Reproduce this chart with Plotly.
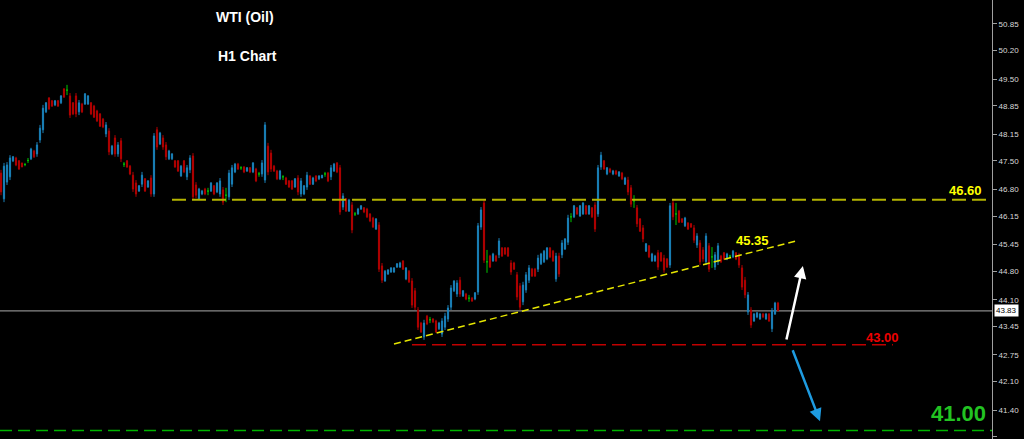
import plotly.graph_objects as go

# ---------------- data (H1 bars) ----------------
opens = [47.20,46.57,46.98,47.11,47.50,47.57,47.50,47.45,47.41,47.51,47.55,47.74,47.67,48.01,48.26,48.70,49.04,48.97,48.87,48.97,
 48.92,49.26,49.23,49.09,48.92,49.09,48.70,48.89,48.89,48.89,48.92,48.84,48.72,48.65,48.52,48.16,48.23,47.67,48.06,47.67,
 47.99,47.42,47.50,47.37,47.15,46.96,46.76,46.93,47.06,46.86,47.08,46.69,48.26,47.91,48.06,47.89,47.55,47.55,47.50,47.50,
 47.13,47.50,47.11,47.28,47.62,46.91,46.57,46.69,46.81,46.76,46.76,46.89,46.74,46.69,46.79,46.66,46.62,46.93,47.23,47.42,
 47.33,47.35,47.25,47.33,47.23,47.30,47.18,47.18,47.03,47.86,47.69,47.37,47.25,47.06,47.11,47.08,47.01,47.01,46.86,47.08,
 46.69,46.69,46.86,47.13,46.93,47.13,47.06,47.08,47.18,47.20,47.11,47.25,47.45,47.33,46.37,46.57,46.27,46.42,46.20,46.20,
 46.32,46.35,46.32,46.20,46.10,45.83,45.93,44.93,44.56,44.73,44.78,44.78,44.90,44.90,45.05,44.61,44.80,44.56,44.32,43.85,
 43.53,43.19,43.70,43.61,43.63,43.58,43.39,43.26,43.43,43.63,43.92,44.32,44.24,44.58,44.19,44.24,44.14,44.14,44.12,44.29,
 45.88,46.47,45.03,45.17,45.05,45.17,45.20,45.37,45.37,45.37,45.00,45.00,44.71,44.44,44.05,44.34,44.58,44.85,44.85,44.85,
 44.98,45.03,45.10,45.37,45.29,44.61,45.17,45.20,45.34,45.51,46.13,46.13,46.35,46.15,46.20,46.40,46.20,46.35,46.42,46.20,
 47.35,47.50,47.18,47.30,47.18,47.25,47.13,47.20,46.93,47.03,46.84,46.52,46.35,46.08,45.86,45.29,45.42,45.05,45.05,45.25,
 45.25,45.12,45.10,44.95,46.47,46.20,46.27,46.08,45.91,45.98,45.96,45.86,45.44,45.49,45.32,45.03,45.42,45.15,44.90,45.03,
 45.17,45.25,45.10,45.17,45.15,45.25,45.17,44.88,44.58,43.80,43.85,43.58,43.68,43.63,43.75,43.63,43.75,43.39,43.75,44.02]
highs = [47.28,47.45,47.47,47.64,47.62,47.60,47.52,47.45,47.45,47.57,47.82,47.77,47.96,48.38,48.87,48.94,49.06,48.99,48.99,48.99,
 49.11,49.28,49.36,49.16,48.94,49.16,48.99,48.92,49.16,49.11,48.94,48.87,48.75,48.67,48.55,48.45,48.30,47.89,48.13,47.96,
 48.06,47.47,47.52,47.40,47.23,47.03,46.91,47.23,47.08,47.03,47.15,48.18,48.33,48.21,48.13,47.96,47.77,47.69,47.52,47.52,
 47.40,47.52,47.40,47.64,47.69,46.98,46.84,46.79,46.84,46.84,46.98,46.91,46.98,47.08,46.86,46.84,47.28,47.40,47.45,47.45,
 47.37,47.37,47.35,47.35,47.47,47.33,47.23,47.52,48.45,47.94,47.77,47.40,47.28,47.28,47.15,47.11,47.03,47.03,47.08,47.15,
 47.08,46.91,47.23,47.15,47.11,47.15,47.15,47.15,47.23,47.23,47.40,47.45,47.47,47.40,46.71,46.59,46.57,46.49,46.25,46.35,
 46.42,46.37,46.35,46.22,46.13,46.10,46.00,45.00,44.83,44.85,44.90,44.90,45.00,45.03,45.07,44.90,44.83,44.63,44.39,43.92,
 43.56,43.61,43.73,43.68,43.65,43.61,43.56,43.65,43.78,43.97,44.46,44.58,44.58,44.66,44.34,44.27,44.22,44.17,44.29,45.98,
 46.37,46.54,45.32,45.20,45.25,45.20,45.61,45.39,45.39,45.39,45.07,45.03,44.78,44.51,44.54,44.78,44.95,44.88,44.88,45.20,
 45.25,45.32,45.39,45.39,45.32,45.25,45.25,45.56,45.61,46.18,46.22,46.42,46.37,46.42,46.49,46.42,46.42,46.37,46.49,47.40,
 47.72,47.52,47.35,47.33,47.28,47.28,47.25,47.23,47.11,47.11,46.91,46.66,46.42,46.10,45.93,45.49,45.44,45.25,45.20,45.32,
 45.27,45.20,45.12,46.47,46.54,46.47,46.30,46.10,46.13,46.00,45.98,45.93,45.73,45.56,45.39,45.73,45.49,45.39,45.27,45.49,
 45.20,45.27,45.25,45.20,45.32,45.27,45.25,44.95,44.66,44.29,43.92,43.78,43.80,43.78,43.78,43.78,43.78,43.90,44.05,44.05]
lows = [46.66,46.49,46.91,47.03,47.47,47.37,47.28,47.35,47.37,47.45,47.52,47.57,47.60,47.94,48.18,48.67,48.75,48.82,48.84,48.82,
 48.89,49.04,49.11,48.55,48.62,48.57,48.62,48.67,48.87,48.87,48.62,48.55,48.45,48.33,48.30,48.08,47.64,47.64,47.60,47.60,
 47.47,47.35,47.33,47.15,46.74,46.62,46.74,46.86,46.74,46.84,46.62,46.62,47.77,47.89,47.77,47.52,47.52,47.52,47.33,47.23,
 47.11,47.20,47.03,47.20,46.54,46.59,46.54,46.66,46.66,46.66,46.74,46.66,46.71,46.62,46.42,46.49,46.54,46.86,47.20,47.28,
 47.28,47.20,47.23,47.20,47.20,46.98,47.11,47.11,46.96,47.15,47.23,47.23,47.03,47.03,47.03,46.91,46.84,46.79,46.84,46.66,
 46.62,46.66,46.79,46.91,46.91,46.98,47.03,47.08,47.11,46.98,47.03,47.23,47.20,46.18,46.30,46.25,46.25,45.73,46.15,46.18,
 46.30,46.22,46.10,46.00,45.86,45.81,44.78,44.51,44.54,44.71,44.76,44.76,44.88,44.88,44.83,44.58,44.51,43.90,43.85,43.36,
 43.29,43.12,43.48,43.53,43.53,43.29,43.36,43.19,43.36,43.56,43.85,44.29,44.17,44.17,44.17,44.09,44.05,44.05,44.09,44.22,
 45.81,45.00,44.76,44.88,45.03,45.03,45.12,45.15,45.20,45.15,44.71,44.83,44.09,43.85,43.97,44.27,44.51,44.66,44.66,44.78,
 44.95,45.00,45.07,45.12,45.03,44.54,44.66,45.12,45.32,45.44,46.00,46.10,46.18,46.13,46.18,46.18,46.18,46.10,45.76,46.13,
 47.28,47.28,47.15,47.20,47.15,47.15,47.11,47.03,46.91,46.66,46.37,46.35,45.88,45.76,45.51,45.27,45.12,45.03,45.03,44.83,
 45.03,44.76,44.88,44.88,46.05,45.93,45.98,45.98,45.88,45.81,45.86,45.49,45.37,44.95,45.03,44.95,44.78,44.88,44.83,44.95,
 45.00,45.07,45.07,45.12,45.12,45.07,44.88,44.34,44.14,43.73,43.41,43.56,43.65,43.61,43.65,43.61,43.56,43.31,43.73,43.83]
closes = [46.74,47.37,47.40,47.57,47.60,47.40,47.30,47.35,47.41,47.51,47.79,47.60,47.89,48.30,48.79,48.92,48.77,48.84,48.97,48.84,
 49.09,49.06,49.23,48.62,48.65,48.65,48.92,48.70,49.14,49.09,48.65,48.57,48.48,48.35,48.33,48.38,47.72,47.86,47.67,47.89,
 47.55,47.42,47.35,47.18,46.81,46.69,46.89,47.15,46.76,47.01,46.69,48.11,47.84,48.18,47.84,47.60,47.74,47.67,47.35,47.25,
 47.37,47.23,47.33,47.57,46.62,46.66,46.81,46.76,46.69,46.76,46.96,46.69,46.96,47.01,46.49,46.66,47.20,47.33,47.42,47.30,
 47.33,47.23,47.33,47.23,47.45,47.01,47.18,47.45,48.38,47.23,47.30,47.25,47.06,47.25,47.11,46.93,46.86,46.81,47.06,46.74,
 47.01,46.89,47.15,46.93,47.08,47.01,47.13,47.15,47.18,47.01,47.33,47.42,47.23,46.25,46.64,46.27,46.54,45.81,46.20,46.32,
 46.40,46.25,46.13,46.03,45.88,46.08,44.85,44.58,44.80,44.83,44.88,44.88,44.98,45.00,44.85,44.88,44.54,43.97,43.92,43.43,
 43.31,43.53,43.51,43.61,43.56,43.31,43.53,43.58,43.70,43.90,44.39,44.56,44.51,44.24,44.32,44.12,44.14,44.07,44.27,45.91,
 46.30,45.07,45.03,44.90,45.22,45.05,45.54,45.17,45.22,45.17,44.78,44.85,44.17,43.92,44.46,44.71,44.88,44.68,44.68,45.12,
 45.22,45.29,45.37,45.15,45.05,45.17,44.73,45.49,45.59,46.10,46.13,46.40,46.20,46.40,46.47,46.20,46.40,46.13,45.83,47.33,
 47.64,47.30,47.33,47.23,47.25,47.18,47.23,47.06,47.08,46.74,46.44,46.52,45.96,45.78,45.59,45.47,45.15,45.22,45.17,44.90,
 45.05,44.83,44.90,46.40,46.13,46.20,46.00,46.00,46.10,45.83,45.88,45.56,45.66,45.03,45.10,45.66,44.85,45.15,45.20,45.42,
 45.03,45.10,45.22,45.17,45.29,45.10,44.95,44.41,44.22,44.22,43.48,43.75,43.78,43.75,43.68,43.75,43.58,43.83,44.02,43.83]

tick_vals = [50.85, 50.20, 49.50, 48.85, 48.15, 47.50, 46.80, 46.15, 45.45, 44.80, 44.10, 43.45, 42.75, 42.10, 41.40, 40.75]
tick_text = ["50.85", "50.20", "49.50", "48.85", "48.15", "47.50", "46.80", "46.15", "45.45", "44.80", "44.10",
             "43.45", "42.75", "42.10", "41.40", "40.75"]

last_price = 43.83
resistance = 46.55          # horizontal yellow level (labelled 46.60)
support_red = 43.00
target_green = 40.90        # green level (labelled 41.00)
trend_start = (131, 43.02)  # bar index, price
trend_end = (265, 45.54)
resistance_from = 57
red_from, red_to = 137, 297.3
arrow_up = ((261.7, 43.09), (267.3, 44.93))
arrow_down = ((263.7, 42.90), (273.0, 41.13))

Y_RANGE = [40.693, 51.437]
X_RANGE = [-0.333, 330.33]

# ---------------- figure ----------------
idx = list(range(len(closes)))
norm = [i for i in idx if opens[i] != closes[i]]
doji = [i for i in idx if opens[i] == closes[i]]

fig = go.Figure()
fig.add_trace(go.Candlestick(
    x=norm, open=[opens[i] for i in norm], high=[highs[i] for i in norm],
    low=[lows[i] for i in norm], close=[closes[i] for i in norm],
    increasing=dict(line=dict(color="#1a80b8", width=1), fillcolor="#1e98e2"),
    decreasing=dict(line=dict(color="#b00000", width=1), fillcolor="#e00000"),
    whiskerwidth=0, hoverinfo="skip", showlegend=False))
fig.add_trace(go.Candlestick(
    x=doji, open=[opens[i] for i in doji], high=[highs[i] for i in doji],
    low=[lows[i] for i in doji], close=[closes[i] for i in doji],
    increasing=dict(line=dict(color="#00c800", width=1), fillcolor="#00c800"),
    decreasing=dict(line=dict(color="#00c800", width=1), fillcolor="#00c800"),
    whiskerwidth=0, hoverinfo="skip", showlegend=False))

shapes = [
    dict(type="line", xref="paper", yref="y", x0=0, x1=1, y0=last_price, y1=last_price,
         line=dict(color="#8a8a8a", width=1.2), layer="below"),
    dict(type="line", xref="x", yref="y", x0=resistance_from, x1=X_RANGE[1] + 5, y0=resistance, y1=resistance,
         line=dict(color="#b4b400", width=2, dash="14px,6px")),
    dict(type="line", xref="x", yref="y", x0=trend_start[0], x1=trend_end[0], y0=trend_start[1], y1=trend_end[1],
         line=dict(color="#e6e600", width=1.5, dash="7px,4px")),
    dict(type="line", xref="x", yref="y", x0=red_from, x1=red_to, y0=support_red, y1=support_red,
         line=dict(color="#c00000", width=1.5, dash="14px,6px")),
    dict(type="line", xref="paper", yref="y", x0=0, x1=1, y0=target_green, y1=target_green,
         line=dict(color="#00b400", width=1.5, dash="12px,6px")),
]

font_b = "Liberation Sans, Arial, sans-serif"


def label(x, y, text, size, color, xanchor="center"):
    return dict(xref="paper", yref="paper", x=x, y=y, xanchor=xanchor, yanchor="middle",
                text="<b>%s</b>" % text, showarrow=False,
                font=dict(family=font_b, size=size, color=color))


annotations = [
    label(0.247, 0.961, "WTI (Oil)", 14, "white"),
    label(0.249, 0.872, "H1 Chart", 14, "white"),
    label(0.992, 0.567, "46.60", 13, "#ffff00", xanchor="right"),
    label(0.759, 0.453, "45.35", 13, "#ffff00"),
    label(0.890, 0.232, "43.00", 13, "#ee0000"),
    label(0.996, 0.057, "41.00", 22, "#22c322", xanchor="right"),
    dict(xref="paper", yref="y", x=1.0, y=last_price, xanchor="left", yanchor="middle", xshift=2,
         text="43.83", showarrow=False, bgcolor="white", borderpad=1,
         font=dict(family=font_b, size=8, color="black")),
    dict(xref="x", yref="y", axref="x", ayref="y", x=arrow_up[1][0], y=arrow_up[1][1],
         ax=arrow_up[0][0], ay=arrow_up[0][1], text="", showarrow=True, arrowhead=2, arrowsize=1,
         arrowwidth=2.5, arrowcolor="white", standoff=0, startstandoff=0),
    dict(xref="x", yref="y", axref="x", ayref="y", x=arrow_down[1][0], y=arrow_down[1][1],
         ax=arrow_down[0][0], ay=arrow_down[0][1], text="", showarrow=True, arrowhead=2, arrowsize=1,
         arrowwidth=2.5, arrowcolor="#1e9be0", standoff=0, startstandoff=0),
]

fig.update_layout(
    width=1024, height=439,
    margin=dict(l=0, r=32, t=0, b=0),
    paper_bgcolor="black", plot_bgcolor="black",
    showlegend=False, hovermode=False, boxgap=0.45,
    shapes=shapes, annotations=annotations,
    xaxis=dict(range=X_RANGE, showgrid=False, zeroline=False, showticklabels=False,
               rangeslider=dict(visible=False), fixedrange=True),
    yaxis=dict(range=Y_RANGE, side="right", showgrid=False, zeroline=False,
               tickvals=tick_vals, ticktext=tick_text, ticks="outside", ticklen=4,
               tickcolor="#a0a0a0", showline=True, linecolor="#a0a0a0", linewidth=1,
               tickfont=dict(family=font_b, size=8, color="#d8d8d8"), fixedrange=True),
)

fig.write_html("out.html", config=dict(displayModeBar=False, staticPlot=True),
               post_script="document.body.style.margin='0';document.body.style.background='black';")
